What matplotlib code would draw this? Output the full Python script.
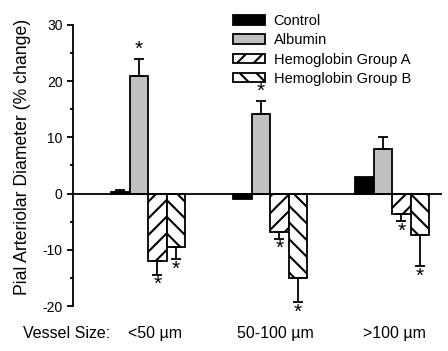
import numpy as np
import matplotlib
matplotlib.use('Agg')
import matplotlib.pyplot as plt
from matplotlib.ticker import MultipleLocator

plt.rcParams['font.family'] = ['Liberation Sans', 'DejaVu Sans']
plt.rcParams['hatch.linewidth'] = 1.5

groups = ['<50 µm', '50-100 µm', '>100 µm']
series = ['Control', 'Albumin', 'Hemoglobin Group A', 'Hemoglobin Group B']

control = [0.2, -0.9, 3.0]
albumin = [21.0, 14.2, 7.9]
hb_a = [-11.9, -6.8, -3.7]
hb_b = [-9.5, -15.0, -7.3]

control_err = [0.5, 0.0, 0.0]
albumin_err = [2.9, 2.2, 2.1]
hb_a_err = [2.5, 1.2, 1.2]
hb_b_err = [2.2, 4.3, 5.6]

# significance flags
control_sig = [False, False, False]
albumin_sig = [True, True, False]
hb_a_sig = [True, True, True]
hb_b_sig = [True, True, True]

values = [control, albumin, hb_a, hb_b]
errors = [control_err, albumin_err, hb_a_err, hb_b_err]
sigs = [control_sig, albumin_sig, hb_a_sig, hb_b_sig]
colors = ['black', '#c0c0c0', 'white', 'white']
hatches = ['', '', '//', '\\\\']

fig = plt.figure(figsize=(4.48, 3.51), dpi=100)
ax = fig.add_axes([0.163, 0.128, 0.824, 0.801])

x = np.arange(len(groups))
w = 0.152
offsets = [-1.5 * w, -0.5 * w, 0.5 * w, 1.5 * w]

for vals, errs, sig, col, h, off, lab in zip(values, errors, sigs, colors, hatches, offsets, series):
    pos = x + off
    ax.bar(pos, vals, w, color=col, edgecolor='black', linewidth=1.3, hatch=h, label=lab, zorder=2)
    lower = [e if v < 0 else 0 for v, e in zip(vals, errs)]
    upper = [e if v >= 0 else 0 for v, e in zip(vals, errs)]
    for p, v, lo, up, e in zip(pos, vals, lower, upper, errs):
        if e > 0:
            ax.errorbar(p, v, yerr=[[lo], [up]], fmt='none', ecolor='black', elinewidth=1.3,
                        capsize=3.5, capthick=1.3, zorder=3)
    for p, v, e, s in zip(pos, vals, errs, sig):
        if s:
            if v >= 0:
                ax.text(p, v + e + 0.1, '*', ha='center', va='bottom', fontsize=15)
            else:
                ax.text(p, v - e - 0.1, '*', ha='center', va='top', fontsize=15)

ax.axhline(0, color='black', linewidth=1.3, zorder=4)

ax.set_xlim(-0.615, 2.41)
ax.set_ylim(-20, 30)
ax.set_yticks([-20, -10, 0, 10, 20, 30])
ax.set_yticklabels(['-20', '-10', '0', '10', '20', '30'], fontsize=10)
ax.yaxis.set_minor_locator(MultipleLocator(5))
ax.tick_params(axis='y', which='major', length=4, width=1.3, direction='out')
ax.tick_params(axis='y', which='minor', length=2, width=1.3, direction='out')
ax.set_xticks([])
for sp in ['top', 'right', 'bottom']:
    ax.spines[sp].set_visible(False)
ax.spines['left'].set_linewidth(1.3)

# y label: spans roughly from y=18 to y=295 px, x from 15 to 30 px in the original
ylab = fig.text(22.5 / 448, 1 - 156.5 / 351, 'Pial Arteriolar Diameter (% change)',
                rotation=90, ha='center', va='center', fontsize=12.5)
fig.canvas.draw()
h_px = ylab.get_window_extent().height
ylab.set_fontsize(12.5 * 277 / h_px)

fig.text(0.052, 0.05, 'Vessel Size:', fontsize=11.5, va='center', ha='left')
label_x = [0.347, 0.615, 0.88]
for lx, g in zip(label_x, groups):
    fig.text(lx, 0.05, g, fontsize=11.5, va='center', ha='center')

ax.legend(loc='upper left', bbox_to_anchor=(0.5, 0.985), bbox_transform=fig.transFigure,
          frameon=False, fontsize=10.5, handlelength=2.2, handleheight=0.6,
          labelspacing=0.36, handletextpad=0.6, borderaxespad=0.2)

fig.savefig('out.png', dpi=100)
